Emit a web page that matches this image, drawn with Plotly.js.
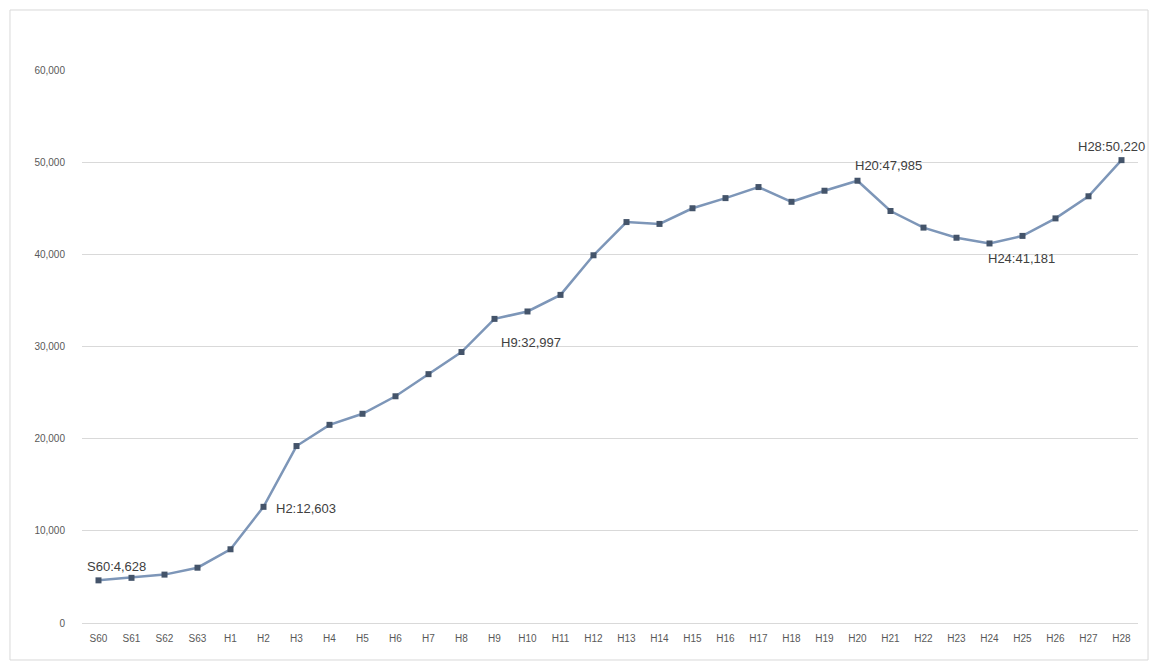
<!DOCTYPE html>
<html>
<head>
<meta charset="utf-8">
<script src="https://cdn.plot.ly/plotly-3.0.1.min.js"></script>
<style>
html,body{margin:0;padding:0;background:#fff;}
#chart{width:1152px;height:666px;}
</style>
</head>
<body>
<div id="chart"></div>
<script>
const categories = ["S60","S61","S62","S63","H1","H2","H3","H4","H5","H6","H7","H8","H9","H10","H11","H12","H13","H14","H15","H16","H17","H18","H19","H20","H21","H22","H23","H24","H25","H26","H27","H28"];
const values = [4628,4900,5250,6000,8000,12603,19200,21500,22700,24600,27000,29400,32997,33800,35600,39900,43500,43300,45000,46100,47300,45700,46900,47985,44700,42900,41800,41181,42000,43900,46300,50220];
const labelPoints = ["S60","H2","H9","H20","H24","H28"];
const labelTexts = ["S60:4,628","H2:12,603","H9:32,997","H20:47,985","H24:41,181","H28:50,220"];
const yTicks = [0,10000,20000,30000,40000,50000,60000];
const yTickText = ["0","10,000","20,000","30,000","40,000","50,000","60,000"];

const labelStyle = {
  "S60": {xanchor:"center", yanchor:"bottom", xshift:18, yshift:4},
  "H2":  {xanchor:"left", yanchor:"middle", xshift:10, yshift:-2},
  "H9":  {xanchor:"left", yanchor:"top", xshift:4, yshift:-14},
  "H20": {xanchor:"left", yanchor:"bottom", xshift:-5, yshift:6},
  "H24": {xanchor:"left", yanchor:"top", xshift:-4, yshift:-6},
  "H28": {xanchor:"right", yanchor:"bottom", xshift:25, yshift:4}
};

const annotations = labelPoints.map((c,i)=>{
  const s = labelStyle[c];
  return {x:c, y:values[categories.indexOf(c)], text:labelTexts[i], showarrow:false,
    xanchor:s.xanchor, yanchor:s.yanchor, xshift:s.xshift, yshift:s.yshift,
    font:{family:"Liberation Sans, Arial, sans-serif", size:13, color:"#404040"}};
});

const trace = {
  x: categories, y: values, type:"scatter", mode:"lines+markers",
  line:{color:"#7d96b8", width:2.5},
  marker:{symbol:"square", size:6, color:"#44546a"},
  hoverinfo:"x+y"
};

const layout = {
  width:1152, height:666,
  margin:{l:82, r:14, t:70, b:43},
  paper_bgcolor:"#ffffff", plot_bgcolor:"#ffffff",
  showlegend:false,
  xaxis:{type:"category", range:[-0.5,31.5], showgrid:false, zeroline:false,
    showline:true, linecolor:"#d9d9d9", linewidth:1, ticks:"", ticklabelstandoff:6,
    tickfont:{family:"Liberation Sans, Arial, sans-serif", size:10, color:"#595959"}, tickangle:0},
  yaxis:{range:[0,60000], tickvals:yTicks, ticktext:yTickText, showgrid:true,
    gridcolor:"#d9d9d9", gridwidth:1, zeroline:false, showline:false, ticks:"",
    ticklabelstandoff:16,
    tickfont:{family:"Liberation Sans, Arial, sans-serif", size:10, color:"#595959"}},
  annotations: annotations,
  shapes:[{type:"rect", xref:"paper", yref:"paper", x0:-0.0682, x1:1.0095, y0:-0.0669, y1:1.1085,
    line:{color:"#d9d9d9", width:1}, fillcolor:"rgba(0,0,0,0)", layer:"below"}]
};

Plotly.newPlot("chart", [trace], layout, {displayModeBar:false, staticPlot:true});
</script>
</body>
</html>
